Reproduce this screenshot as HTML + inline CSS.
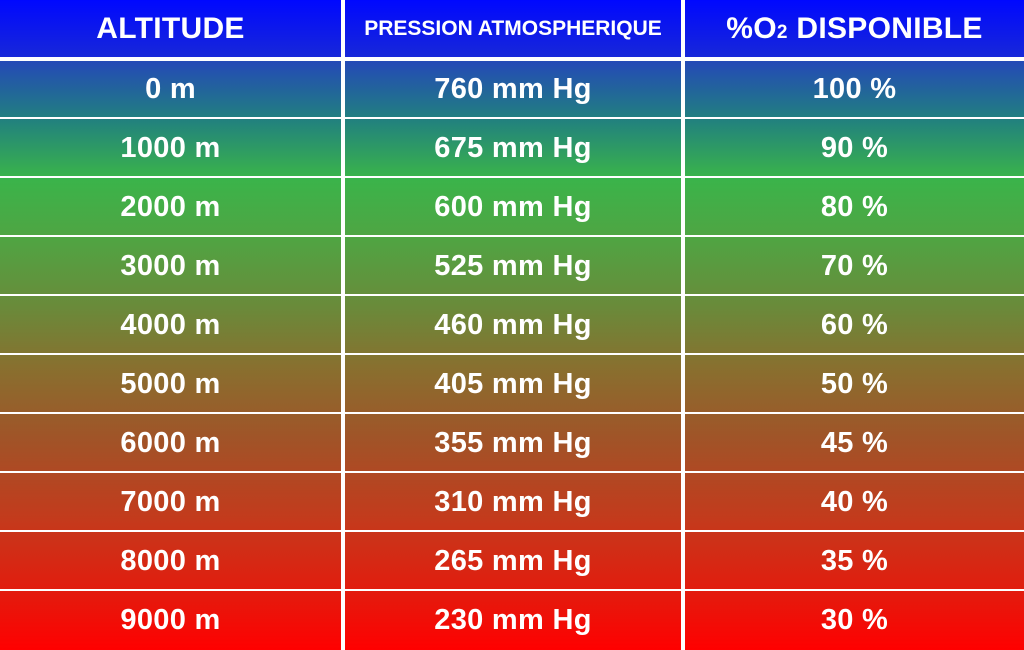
<!DOCTYPE html>
<html><head><style>
body{margin:0;width:1024px;height:650px;overflow:hidden;background:#fff;font-family:"Liberation Sans",sans-serif;font-weight:bold;color:#fff}
.hdr{position:absolute;left:0;top:0;width:1024px;height:58px;background:linear-gradient(#0008ff,#1828d8)}
.body{position:absolute;left:0;top:60px;width:1024px;height:590px;background:linear-gradient(#2448b8 0%,#21807f 10%,#3ab44a 20%,#4fa543 30%,#6a8a3a 42%,#88702f 52%,#a05428 64%,#c43a1c 78%,#e21c0e 90%,#ff0000 100%)}
.v{position:absolute;top:0;width:4px;height:650px;background:#fff}
.h{position:absolute;left:0;width:1024px;height:2px;background:#fff}
.c{position:absolute;text-align:center;font-size:29px;line-height:59px;letter-spacing:0.3px}
</style></head><body>
<div class="hdr"></div><div class="body"></div>
<div class="v" style="left:341px"></div><div class="v" style="left:681px"></div>
<div class="h" style="top:57px;height:4px"></div>
<div class="h" style="top:117px"></div><div class="h" style="top:176px"></div><div class="h" style="top:235px"></div><div class="h" style="top:294px"></div><div class="h" style="top:353px"></div><div class="h" style="top:412px"></div><div class="h" style="top:471px"></div><div class="h" style="top:530px"></div><div class="h" style="top:589px"></div>
<div class="c" style="left:0;width:341px;top:0;line-height:57px;font-size:30px">ALTITUDE</div>
<div class="c" style="left:345px;width:336px;top:0;line-height:57px;font-size:21px;letter-spacing:0">PRESSION ATMOSPHERIQUE</div>
<div class="c" style="left:685px;width:339px;top:0;line-height:57px;font-size:30px">%O<span style="font-size:19px">2</span> DISPONIBLE</div>
<div id="rows"></div>
<script>
var d=[["0 m","760 mm Hg","100 %"],["1000 m","675 mm Hg","90 %"],["2000 m","600 mm Hg","80 %"],["3000 m","525 mm Hg","70 %"],["4000 m","460 mm Hg","60 %"],["5000 m","405 mm Hg","50 %"],["6000 m","355 mm Hg","45 %"],["7000 m","310 mm Hg","40 %"],["8000 m","265 mm Hg","35 %"],["9000 m","230 mm Hg","30 %"]];
var h="";d.forEach(function(r,i){var t=60+i*59;
h+='<div class="c" style="left:0;width:341px;top:'+t+'px">'+r[0]+'</div>';
h+='<div class="c" style="left:345px;width:336px;top:'+t+'px">'+r[1]+'</div>';
h+='<div class="c" style="left:685px;width:339px;top:'+t+'px">'+r[2]+'</div>';});
document.getElementById("rows").innerHTML=h;
</script>
</body></html>
